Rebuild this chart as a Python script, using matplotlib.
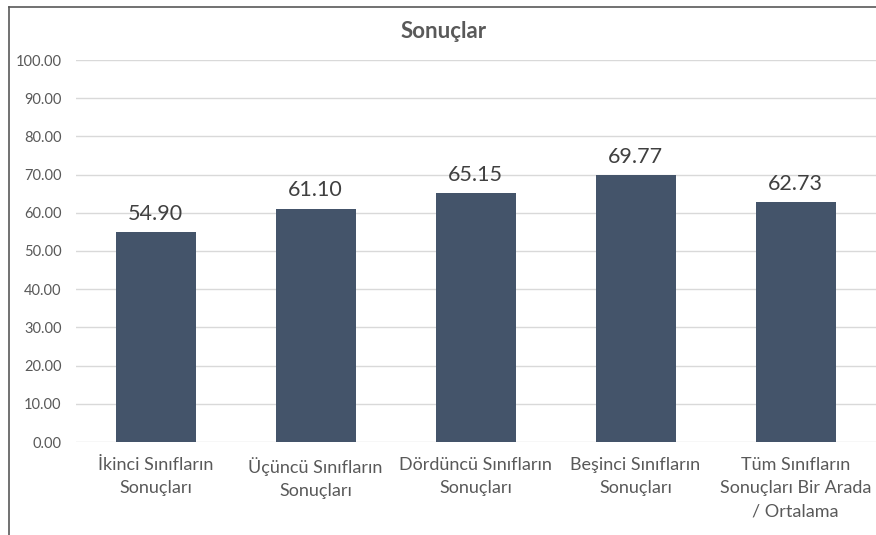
import matplotlib
matplotlib.use("Agg")
import matplotlib.pyplot as plt
from matplotlib.lines import Line2D

categories = ["İkinci Sınıfların\nSonuçları",
              "Üçüncü Sınıfların\nSonuçları",
              "Dördüncü Sınıfların\nSonuçları",
              "Beşinci Sınıfların\nSonuçları",
              "Tüm Sınıfların\nSonuçları Bir Arada\n/ Ortalama"]
values = [54.90, 61.10, 65.15, 69.77, 62.73]
yticks = [0, 10, 20, 30, 40, 50, 60, 70, 80, 90, 100]
title = "Sonuçlar"

plt.rcParams['font.family'] = ['Lato', 'DejaVu Sans']

W, H = 876, 535
fig = plt.figure(figsize=(W / 100, H / 100), dpi=100)
fig.patch.set_facecolor("white")

ax = fig.add_axes([75.5 / W, 1 - 442 / H, 800 / W, 382 / H])
x = list(range(len(categories)))
bars = ax.bar(x, values, width=0.5, color="#44546A", zorder=3)
ax.set_xlim(-0.5, len(categories) - 0.5)
ax.set_ylim(0, 100)
ax.set_yticks(yticks)
ax.set_yticklabels([f"{v:.2f}" for v in yticks], fontsize=10.5, color="#595959")
ax.set_xticks(x)
ax.set_xticklabels(categories, fontsize=13, color="#595959", linespacing=1.55)
ax.tick_params(axis="both", length=0)
ax.tick_params(axis="x", pad=11)
ax.tick_params(axis="y", pad=10)
ax.grid(axis="y", color="#D9D9D9", linewidth=1, zorder=0)
for s in ax.spines.values():
    s.set_visible(False)

for b, v in zip(bars, values):
    ax.annotate(f"{v:.2f}", (b.get_x() + b.get_width() / 2, v),
                xytext=(0, 6), textcoords="offset points",
                ha="center", va="bottom", fontsize=15.5, color="#404040")

fig.text(444 / W, 1 - 31 / H, title, ha="center", va="center",
         fontsize=16, fontweight="bold", color="#595959")

# outer border (left and top visible)
fig.add_artist(Line2D([8.5 / W, 8.5 / W], [0, 1 - 6.5 / H], transform=fig.transFigure,
                      color="#595959", linewidth=1.2))
fig.add_artist(Line2D([8.5 / W, 1], [1 - 6.5 / H, 1 - 6.5 / H], transform=fig.transFigure,
                      color="#595959", linewidth=1.2))

fig.savefig("out.png", dpi=100, facecolor="white")
